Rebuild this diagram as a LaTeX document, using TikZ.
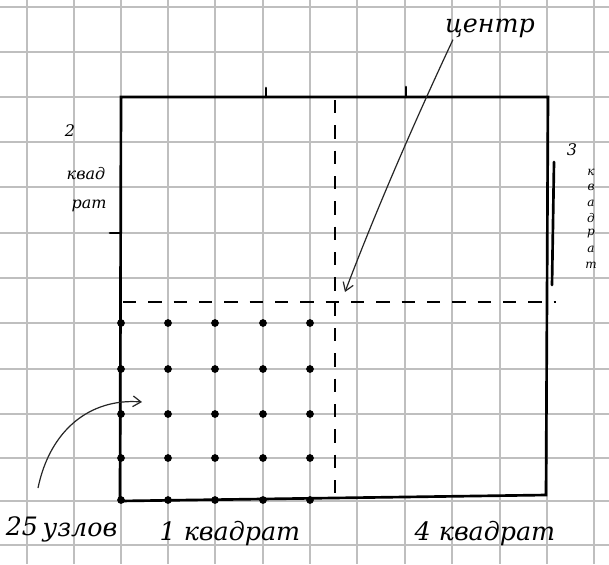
\documentclass[tikz,border=0pt]{standalone}
\usepackage{fontspec}
\setmainfont{DejaVu Serif}
\usetikzlibrary{arrows.meta}
\tikzset{
  gridline/.style={draw=black!25, line width=0.8pt},
  edge/.style={draw=black, line width=2pt, line cap=round},
  dashline/.style={draw=black, line width=1.1pt, dash pattern=on 10pt off 9pt},
  pointer/.style={draw=black!85, line width=0.9pt, -{Straight Barb[length=6pt,width=8pt]}},
  hand/.style={font=\itshape\fontsize{19}{19}\selectfont, inner sep=0pt},
  handsmall/.style={font=\itshape\fontsize{12}{12}\selectfont, inner sep=0pt},
  handtiny/.style={font=\itshape\fontsize{9}{9}\selectfont, inner sep=0pt},
  knot/.style={circle, fill=black, inner sep=0pt, minimum size=5.8pt}
}
\begin{document}
\begin{tikzpicture}[x=0.75pt, y=-0.75pt]
\useasboundingbox (0,0) rectangle (609,564);
\fill[white] (0,0) rectangle (609,564);
% graph paper
\foreach \gx in {27,74,121,168,215,263,310,357,405,452,500,547,594}
  \draw[gridline] (\gx,0) -- (\gx,564);
\foreach \gy in {7,52,97,142,187,233,278,323,369,414,458,501,545}
  \draw[gridline] (0,\gy) -- (609,\gy);
% dashed centre lines
\draw[dashline] (335,100) -- (335,500);
\draw[dashline] (123,302) -- (556,302);
% the big square
\coordinate (tl) at (121,97);
\coordinate (tr) at (548,97);
\coordinate (br) at (546,495);
\coordinate (bl) at (120,501);
\draw[edge] (tl) -- (tr) -- (br) -- (bl) -- cycle;
\draw[edge] (266,88) -- (266,97);
\draw[edge] (406,87) -- (406,97);
\draw[edge] (110,233) -- (121,233);
\draw[edge] (554,162) -- (552,285);
% 25 knots
\foreach \i/\kx in {1/121,2/168,3/215,4/263,5/310}
  \foreach \j/\ky in {1/323,2/369,3/414,4/458,5/500}
    \node[knot] (k\i\j) at (\kx,\ky) {};
% labels
\node[hand] (centr) at (490,28) {центр};
\coordinate (centre) at (345,292);
\draw[pointer] (centr.south west) ++(8,2) .. controls (420,110) and (380,200) .. (centre);
\node[hand] (n25) at (22,526) {25};
\node[hand] (uzlov) at (80,533) {узлов};
\coordinate (knots) at (142,402);
\draw[pointer] (38,488) .. controls (50,430) and (90,398) .. (knots);
\node[hand] (q1) at (230,533) {1 квадрат};
\node[hand] (q4) at (485,533) {4 квадрат};
\node[handsmall] (q2num) at (70,131) {2};
\node[handsmall] (q2a) at (86,174) {квад};
\node[handsmall] (q2b) at (89,206) {рат};
\node[handsmall] (q3num) at (572,150) {3};
\foreach \c [count=\n from 0] in {к,в,а,д,р,а,т}
  \node[handtiny] (q3l\n) at (591,{172+15.5*\n}) {\c};
\end{tikzpicture}
\end{document}
